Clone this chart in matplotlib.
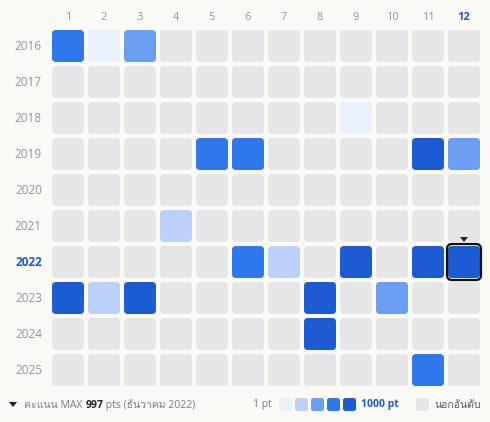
import matplotlib.pyplot as plt
from matplotlib import font_manager
from matplotlib.ft2font import FT2Font
from matplotlib.patches import FancyBboxPatch, Polygon

# find an installed family that has Thai glyphs
thai_family = None
for fe in font_manager.fontManager.ttflist:
    try:
        if FT2Font(fe.fname).get_char_index(ord('ก')):
            thai_family = fe.name
            break
    except Exception:
        pass
families = ['Open Sans'] + ([thai_family] if thai_family else []) + ['DejaVu Sans']
plt.rcParams['font.family'] = families

years = [2016, 2017, 2018, 2019, 2020, 2021, 2022, 2023, 2024, 2025]
months = list(range(1, 13))
# level per (year, month): 1..5, missing = not ranked
levels = {
    2016: {1: 4, 2: 1, 3: 3},
    2018: {9: 1},
    2019: {5: 4, 6: 4, 11: 5, 12: 3},
    2021: {4: 2},
    2022: {6: 4, 7: 2, 9: 5, 11: 5, 12: 5},
    2023: {1: 5, 2: 2, 3: 5, 8: 5, 10: 3},
    2024: {8: 5},
    2025: {11: 4},
}
max_year, max_month = 2022, 12
palette = ['#e6e6e9', '#e8effd', '#bcd1f8', '#6a9ef2', '#2e78ec', '#1d5bd3']

fig = plt.figure(figsize=(4.9, 4.22), dpi=100, facecolor='#f9f9f6')
ax = fig.add_axes([0, 0, 1, 1])
ax.set_xlim(0, 490)
ax.set_ylim(422, 0)
ax.axis('off')

x0, y0, pitch, size = 52, 30, 36, 32
label_col = '#9b9098'
for j, m in enumerate(months):
    hl = m == max_month
    ax.text(x0 + j * pitch + size / 2, 17, str(m), ha='center', va='center', fontsize=8,
            color='#1d5bd3' if hl else label_col, weight='bold' if hl else 'normal')
for i, y in enumerate(years):
    hl = y == max_year
    ax.text(42, y0 + i * pitch + size / 2, str(y), ha='right', va='center', fontsize=8.5,
            color='#1d5bd3' if hl else label_col, weight='bold' if hl else 'normal')
    for j, m in enumerate(months):
        lv = levels.get(y, {}).get(m, 0)
        x, yy = x0 + j * pitch, y0 + i * pitch
        ax.add_patch(FancyBboxPatch((x + 2, yy + 2), size - 4, size - 4,
                                    boxstyle='round,pad=2,rounding_size=4',
                                    fc=palette[lv], ec='none'))
        if y == max_year and m == max_month:
            ax.add_patch(FancyBboxPatch((x, yy - 1), size, size + 2,
                                        boxstyle='round,pad=1,rounding_size=5',
                                        fc='none', ec='#111111', lw=1.6))
            cx = x + size / 2
            ax.add_patch(Polygon([[cx - 4, yy - 9], [cx + 4, yy - 9], [cx, yy - 4]],
                                 fc='#222222', ec='none'))

# footer
ax.add_patch(Polygon([[9, 402], [17, 402], [13, 407]], fc='#222222', ec='none'))
t = ax.text(24, 405, 'คะแนน MAX ', ha='left', va='center', fontsize=7.5, color='#777a80')
fig.canvas.draw()
bb = t.get_window_extent()
t2 = ax.text(24 + bb.width, 405, '997', ha='left', va='center', fontsize=7.5,
             color='#222222', weight='bold')
bb2 = t2.get_window_extent()
ax.text(24 + bb.width + bb2.width, 405, ' pts (ธันวาคม 2022)', ha='left', va='center',
        fontsize=7.5, color='#777a80')

ax.text(272, 405, '1 pt', ha='right', va='center', fontsize=7.5, color='#777a80')
for k in range(1, 6):
    ax.add_patch(FancyBboxPatch((279 + (k - 1) * 16, 398), 13, 13,
                                boxstyle='round,pad=0,rounding_size=2.5',
                                fc=palette[k], ec='none'))
ax.text(361, 405, '1000 pt', ha='left', va='center', fontsize=7.5, color='#1d5bd3',
        weight='bold')
ax.add_patch(FancyBboxPatch((416, 398), 13, 13, boxstyle='round,pad=0,rounding_size=2.5',
                            fc=palette[0], ec='none'))
ax.text(434, 405, 'นอกอันดับ', ha='left', va='center', fontsize=7.5, color='#555555')

fig.savefig('out.png', dpi=100, facecolor=fig.get_facecolor())
